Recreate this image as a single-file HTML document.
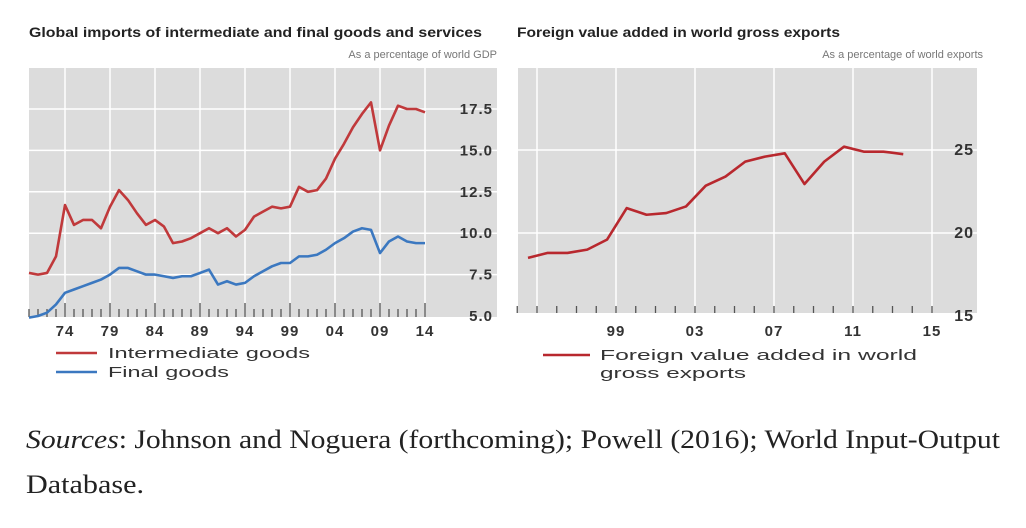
<!DOCTYPE html>
<html><head><meta charset="utf-8"><style>
body{margin:0;background:#fff;width:1026px;height:528px;overflow:hidden}
svg{display:block}
.t{font-family:"Liberation Sans",sans-serif}
</style></head><body>
<svg id="c" width="1026" height="528" xmlns="http://www.w3.org/2000/svg">
<text x="29" y="37" class="t" font-size="14" font-weight="bold" fill="#222" textLength="453" lengthAdjust="spacingAndGlyphs">Global imports of intermediate and final goods and services</text>
<text x="497" y="58" class="t" font-size="11" fill="#777" text-anchor="end">As a percentage of world GDP</text>
<text x="517" y="37" class="t" font-size="14" font-weight="bold" fill="#222" textLength="323" lengthAdjust="spacingAndGlyphs">Foreign value added in world gross exports</text>
<text x="983" y="58" class="t" font-size="11" fill="#777" text-anchor="end">As a percentage of world exports</text>
<rect x="29" y="68" width="468" height="249" fill="#dcdcdc"/>
<rect x="518" y="68" width="459" height="245" fill="#dcdcdc"/>
<g id="L"></g><g id="R"></g>
<g>
<line x1="56" y1="353" x2="97" y2="353" stroke="#c0393b" stroke-width="2.5"/>
<text x="108" y="358" class="t" font-size="15" fill="#333" textLength="202" lengthAdjust="spacingAndGlyphs">Intermediate goods</text>
<line x1="56" y1="372" x2="97" y2="372" stroke="#3b78c0" stroke-width="2.5"/>
<text x="108" y="377" class="t" font-size="15" fill="#333" textLength="121" lengthAdjust="spacingAndGlyphs">Final goods</text>
</g>
<g>
<line x1="543" y1="355" x2="590" y2="355" stroke="#b8282e" stroke-width="2.5"/>
<text x="600" y="360" class="t" font-size="15" fill="#333" textLength="317" lengthAdjust="spacingAndGlyphs">Foreign value added in world</text>
<text x="600" y="378" class="t" font-size="15" fill="#333" textLength="146" lengthAdjust="spacingAndGlyphs">gross exports</text>
</g>
<text x="26" y="448" font-family="Liberation Serif,serif" font-size="26" fill="#222" textLength="974" lengthAdjust="spacingAndGlyphs"><tspan font-style="italic">Sources</tspan>: Johnson and Noguera (forthcoming); Powell (2016); World Input-Output</text>
<text x="26" y="493" font-family="Liberation Serif,serif" font-size="26" fill="#222" textLength="118" lengthAdjust="spacingAndGlyphs">Database.</text>
</svg>
<script>
const leftYears=[1970,1971,1972,1973,1974,1975,1976,1977,1978,1979,1980,1981,1982,1983,1984,1985,1986,1987,1988,1989,1990,1991,1992,1993,1994,1995,1996,1997,1998,1999,2000,2001,2002,2003,2004,2005,2006,2007,2008,2009,2010,2011,2012,2013,2014];
const intermediate=[7.6,7.5,7.6,8.6,11.7,10.5,10.8,10.8,10.3,11.6,12.6,12.0,11.2,10.5,10.8,10.4,9.4,9.5,9.7,10.0,10.3,10.0,10.3,9.8,10.2,11.0,11.3,11.6,11.5,11.6,12.8,12.5,12.6,13.3,14.5,15.4,16.4,17.2,17.9,15.0,16.5,17.7,17.5,17.5,17.3];
const finalGoods=[4.9,5.0,5.2,5.7,6.4,6.6,6.8,7.0,7.2,7.5,7.9,7.9,7.7,7.5,7.5,7.4,7.3,7.4,7.4,7.6,7.8,6.9,7.1,6.9,7.0,7.4,7.7,8.0,8.2,8.2,8.6,8.6,8.7,9.0,9.4,9.7,10.1,10.3,10.2,8.8,9.5,9.8,9.5,9.4,9.4];
const leftYTicks=[5.0,7.5,10.0,12.5,15.0,17.5];
const leftXLabels=[1974,1979,1984,1989,1994,1999,2004,2009,2014];
const rightYears=[1995,1996,1997,1998,1999,2000,2001,2002,2003,2004,2005,2006,2007,2008,2009,2010,2011,2012,2013,2014];
const fva=[18.5,18.8,18.8,19.0,19.6,21.5,21.1,21.2,21.6,22.85,23.4,24.3,24.6,24.8,22.95,24.3,25.2,24.9,24.9,24.75];
const rightYTicks=[15,20,25];
const rightXLabels=[1999,2003,2007,2011,2015];
const NS='http://www.w3.org/2000/svg';
function mk(p,tag,a){const e=document.createElementNS(NS,tag);for(const k in a)e.setAttribute(k,a[k]);p.appendChild(e);return e;}
const fmt2=y=>String(y%100).padStart(2,'0');
const lx=y=>65+(y-1974)*9, ly=v=>316-(v-5)*16.56;
const L=document.getElementById('L');
leftXLabels.forEach(y=>{
 const g=mk(L,'line',{x1:lx(y),x2:lx(y),y1:68,y2:317,stroke:'#fff','stroke-width':1.5});
 
 
 const t=mk(L,'text',{x:lx(y),y:336,'text-anchor':'middle','font-size':15,'font-weight':'bold',fill:'#333',class:'t','letter-spacing':1});
 t.textContent=fmt2(y);
 
 
});
leftYTicks.forEach(v=>{
 if(v>5){const g=mk(L,'line',{x1:29,x2:497,y1:ly(v),y2:ly(v),stroke:'#fff','stroke-width':1.5});
 
 }
 const t=mk(L,'text',{x:493,y:ly(v)+5,'text-anchor':'end','font-size':15,'font-weight':'bold',fill:'#333',class:'t','letter-spacing':1});
 t.textContent=v.toFixed(1);
 
 
});
for(let y=1970;y<=2014;y++){const big=(y-1974)%5===0;const tk=mk(L,'line',{x1:lx(y),x2:lx(y),y1:big?303:309,y2:317,stroke:'#555','stroke-width':1.3});
 
 }
[[intermediate,'#c0393b','intermediate-goods-line'],[finalGoods,'#3b78c0','final-goods-line']].forEach(([d,c,n])=>{
 const p=mk(L,'polyline',{points:d.map((v,i)=>lx(leftYears[i])+','+ly(v)).join(' '),fill:'none',stroke:c,'stroke-width':2.6,'stroke-linejoin':'round'});
 
 
});
const rx=y=>528+(y-1995)*19.75, ry=v=>233-(v-20)*16.6;
const R=document.getElementById('R');
[1995].concat(rightXLabels).forEach((y,i)=>{
 const g=mk(R,'line',{x1:rx(y)+9,x2:rx(y)+9,y1:68,y2:313,stroke:'#fff','stroke-width':1.5});
 
 
 if(i>0){const t=mk(R,'text',{x:rx(y)+9,y:336,'text-anchor':'middle','font-size':15,'font-weight':'bold',fill:'#333',class:'t','letter-spacing':1});
 t.textContent=fmt2(y);
 
 }
});
rightYTicks.forEach(v=>{
 if(v>15){const g=mk(R,'line',{x1:518,x2:977,y1:ry(v),y2:ry(v),stroke:'#fff','stroke-width':1.5});
 
 }
 const t=mk(R,'text',{x:974,y:ry(v)+5,'text-anchor':'end','font-size':16,'font-weight':'bold',fill:'#333',class:'t','letter-spacing':1});
 t.textContent=v;
 
 
});
for(let y=1994;y<=2015;y++){const tk=mk(R,'line',{x1:rx(y)+9,x2:rx(y)+9,y1:306,y2:313,stroke:'#555','stroke-width':1.3});
 
 }
const fp=mk(R,'polyline',{points:fva.map((v,i)=>rx(rightYears[i])+','+ry(v)).join(' '),fill:'none',stroke:'#b8282e','stroke-width':2.6,'stroke-linejoin':'round'});


</script>
</body></html>
